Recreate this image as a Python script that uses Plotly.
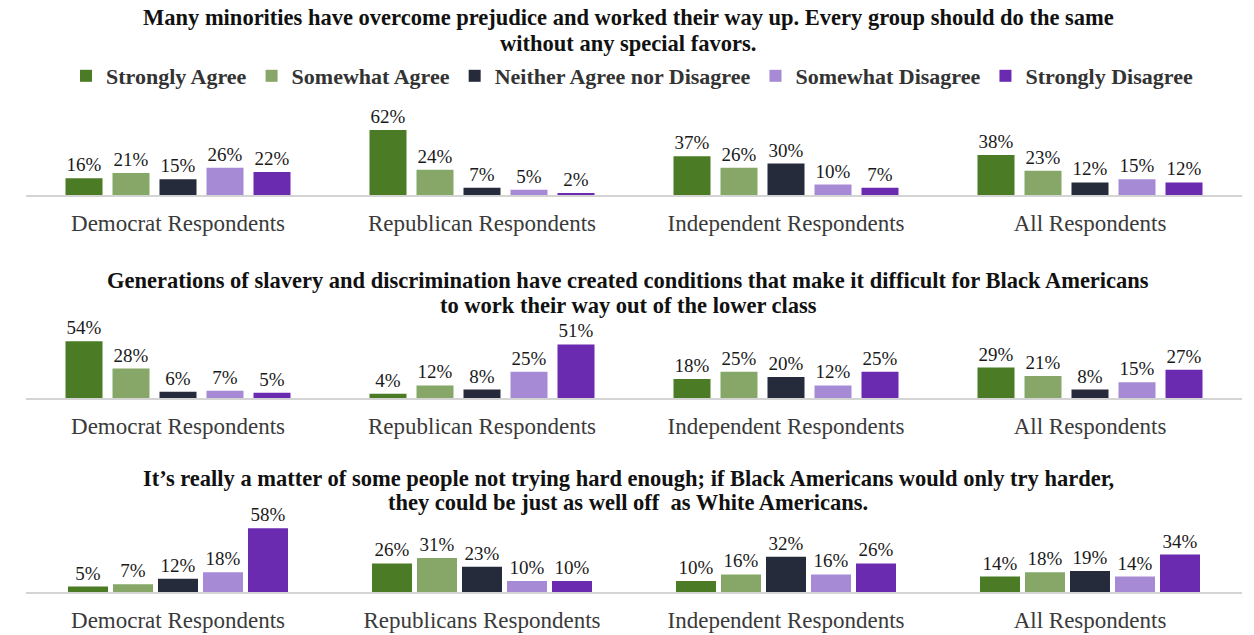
import plotly.graph_objects as go

# Survey responses (percent) for three statements, by party group
responses = ["Strongly Agree", "Somewhat Agree", "Neither Agree nor Disagree",
             "Somewhat Disagree", "Strongly Disagree"]
colors = ["#4b7b25", "#86a767", "#262b3c", "#a68ad6", "#6a2bb0"]

groups_1 = ["Democrat Respondents", "Republican Respondents",
            "Independent Respondents", "All Respondents"]
groups_2 = ["Democrat Respondents", "Republican Respondents",
            "Independent Respondents", "All Respondents"]
groups_3 = ["Democrat Respondents", "Republicans Respondents",
            "Independent Respondents", "All Respondents"]

# values[response][group]
minorities_overcame = [
    [16, 62, 37, 38],
    [21, 24, 26, 23],
    [15, 7, 30, 12],
    [26, 5, 10, 15],
    [22, 2, 7, 12],
]
slavery_conditions = [
    [54, 4, 18, 29],
    [28, 12, 25, 21],
    [6, 8, 20, 8],
    [7, 25, 12, 15],
    [5, 51, 25, 27],
]
not_trying_hard = [
    [5, 26, 10, 14],
    [7, 31, 16, 18],
    [12, 23, 32, 19],
    [18, 10, 16, 14],
    [58, 10, 26, 34],
]

titles = [
    ["Many minorities have overcome prejudice and worked their way up. Every group should do the same",
     "without any special favors."],
    ["Generations of slavery and discrimination have created conditions that make it difficult for Black Americans",
     "to work their way out of the lower class"],
    ["It\u2019s really a matter of some people not trying hard enough; if Black Americans would only try harder,",
     "they could be just as well off  as White Americans."],
]

W, H = 1254, 635
SERIF = "Liberation Serif, Times New Roman, serif"

# panel layout in pixels: (baseline y, px per percent, bar slot, bar width)
panels = [
    (groups_1, minorities_overcame, 195, 1.05, 47, 37),
    (groups_2, slavery_conditions, 398, 1.05, 47, 37),
    (groups_3, not_trying_hard, 592, 1.10, 45, 40),
]
title_lines_y = [(18, 43), (281, 305), (479, 503)]
YMAX = 70
X0, X1 = 26, 1242
group_px = (X1 - X0) / 4

fig = go.Figure()
layout_axes = {}
for p, (groups, values, base, scale, slot, bw) in enumerate(panels):
    xa = "x" if p == 0 else f"x{p + 1}"
    ya = "y" if p == 0 else f"y{p + 1}"
    slot_u = slot / group_px
    bw_u = bw / group_px
    for i, resp in enumerate(responses):
        center = (i - 2) * slot_u
        fig.add_trace(go.Bar(
            x=groups, y=values[i], name=resp,
            marker=dict(color=colors[i], line=dict(width=0)),
            width=bw_u, offset=center - bw_u / 2,
            text=[f"{v}%" for v in values[i]], textposition="outside",
            textfont=dict(family=SERIF, size=19, color="#1a1a1a"),
            cliponaxis=False, showlegend=(p == 0),
            xaxis=xa, yaxis=ya, hoverinfo="skip",
        ))
    top_px = base - YMAX * scale
    layout_axes["xaxis" if p == 0 else f"xaxis{p + 1}"] = dict(
        domain=[X0 / W, X1 / W], anchor=ya, type="category",
        range=[-0.5, 3.5], showgrid=False, zeroline=False,
        showline=True, linecolor="#d4d4d4", linewidth=1.5, ticks="",
        tickfont=dict(family=SERIF, size=23, color="#3a3a3a"),
        ticklabelstandoff=7,
    )
    layout_axes["yaxis" if p == 0 else f"yaxis{p + 1}"] = dict(
        domain=[(H - base) / H, (H - top_px) / H], anchor=xa,
        range=[0, YMAX], visible=False, showgrid=False,
    )

annotations = []
for lines, ys in zip(titles, title_lines_y):
    for line, ty in zip(lines, ys):
        annotations.append(dict(
            text=f"<b>{line}</b>", x=628 / W, y=1 - ty / H,
            xref="paper", yref="paper", xanchor="center", yanchor="middle",
            showarrow=False,
            font=dict(family=SERIF, size=22.5, color="#111111"),
        ))

fig.update_layout(
    width=W, height=H, margin=dict(l=0, r=0, t=0, b=0),
    paper_bgcolor="white", plot_bgcolor="white",
    barmode="overlay",
    annotations=annotations,
    legend=dict(
        orientation="h", x=632 / W, y=1 - 76 / H, xanchor="center", yanchor="middle",
        font=dict(family=SERIF, size=22, color="#333333", weight="bold"),
        itemwidth=30, traceorder="normal", bgcolor="rgba(0,0,0,0)",
    ),
    **layout_axes,
)

fig.write_html("out.html")
